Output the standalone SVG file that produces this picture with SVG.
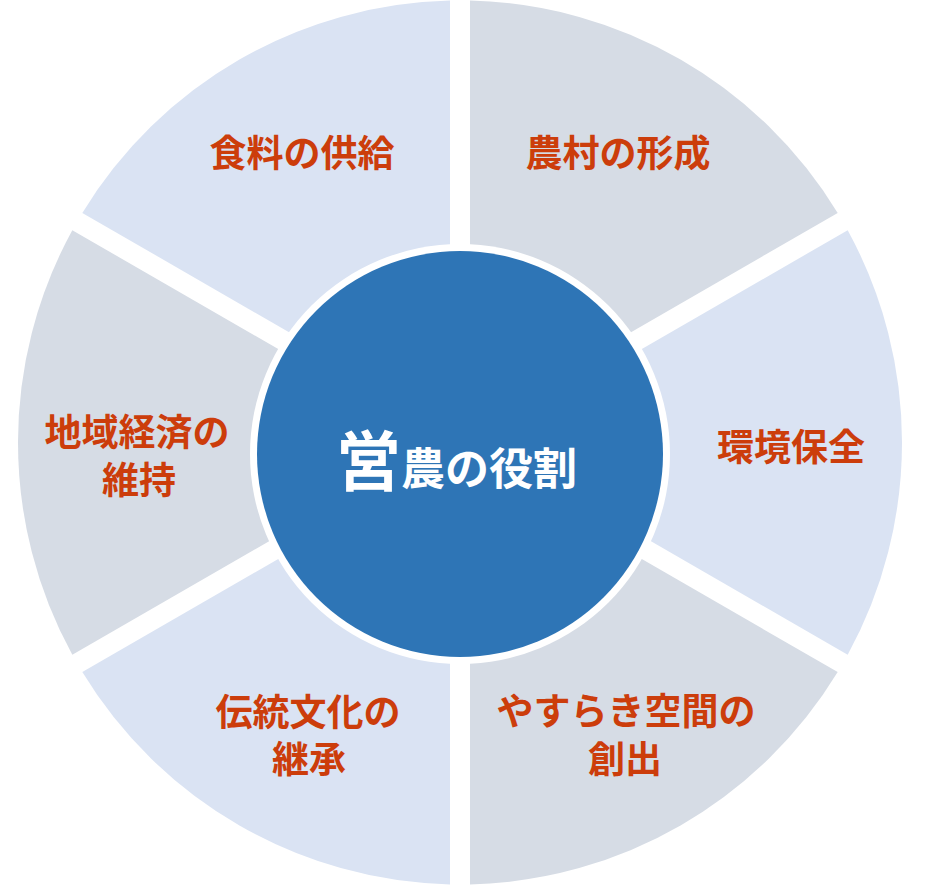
<svg xmlns="http://www.w3.org/2000/svg" width="928" height="885" viewBox="0 0 928 885">
<style>
.lb{fill:#DAE3F3}
.gr{fill:#D6DCE5}
.lbl{font-family:"Noto Sans CJK JP","Noto Sans CJK SC",sans-serif;font-weight:700;font-size:37px;fill:#CC3D0B;text-anchor:middle}
.ctr{font-family:"Noto Sans CJK JP","Noto Sans CJK SC",sans-serif;font-weight:700;fill:#FFFFFF}
</style>
<rect width="928" height="885" fill="#FFFFFF"/>
<g id="sector-shokuryo">
<path class="lb" d="M450 425.18 L82.315 212.896 A442 442 0 0 1 450 0.613 Z"/>
<text class="lbl" x="302" y="167">食料の供給</text>
</g>
<g id="sector-noson">
<path class="gr" d="M470 425.18 L470 0.613 A442 442 0 0 1 837.685 212.896 Z"/>
<text class="lbl" x="618" y="167">農村の形成</text>
</g>
<g id="sector-kankyo">
<path class="lb" d="M480 442.5 L847.685 230.216 A442 442 0 0 1 847.685 654.784 Z"/>
<text class="lbl" x="791" y="461">環境保全</text>
</g>
<g id="sector-yasuraki">
<path class="gr" d="M470 459.82 L837.685 672.104 A442 442 0 0 1 470 884.387 Z"/>
<text class="lbl"><tspan x="626" y="725">やすらき空間の</tspan><tspan x="625" y="773">創出</tspan></text>
</g>
<g id="sector-dento">
<path class="lb" d="M450 459.82 L450 884.387 A442 442 0 0 1 82.315 672.104 Z"/>
<text class="lbl"><tspan x="308" y="726">伝統文化の</tspan><tspan x="309" y="773">継承</tspan></text>
</g>
<g id="sector-chiiki">
<path class="gr" d="M440 442.5 L72.315 654.784 A442 442 0 0 1 72.315 230.216 Z"/>
<text class="lbl"><tspan x="137" y="446">地域経済の</tspan><tspan x="139" y="494">維持</tspan></text>
</g>
<g id="center">
<circle cx="460" cy="454" r="210" fill="#FFFFFF"/>
<circle cx="460" cy="454" r="203" fill="#2E75B6"/>
<text class="ctr" x="336" y="485"><tspan font-size="65">営</tspan><tspan font-size="44">農の役割</tspan></text>
</g>
</svg>
